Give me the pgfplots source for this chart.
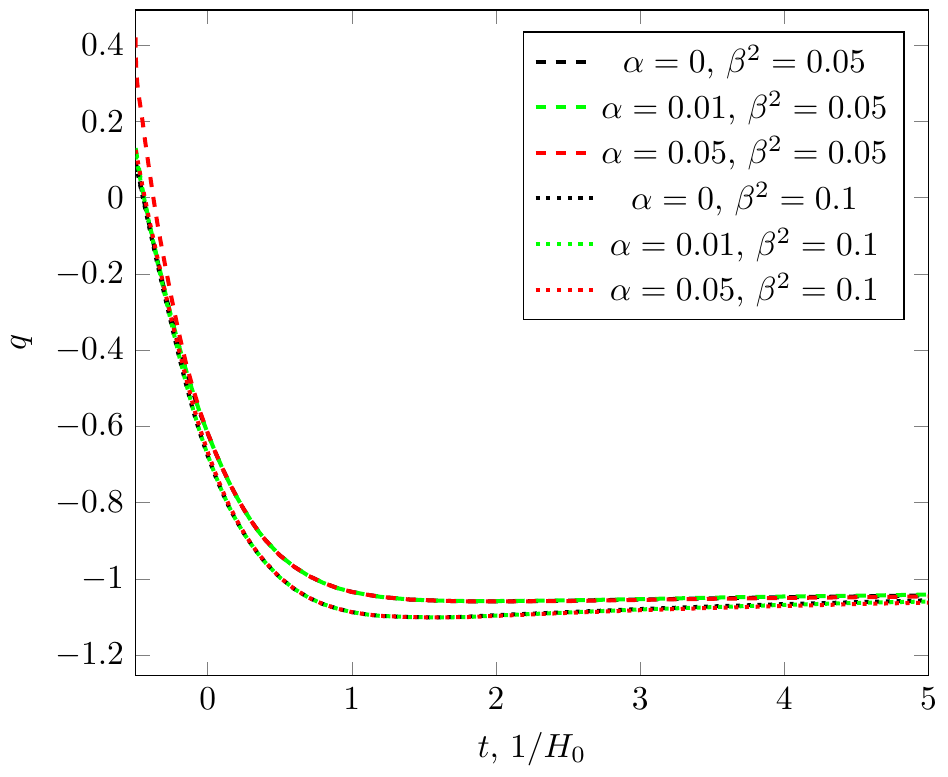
\documentclass[border=0pt]{standalone}
\usepackage{pgfplots}
\pgfplotsset{compat=1.18}
\begin{document}
\begin{tikzpicture}
\begin{axis}[
  scale only axis,
  width=237pt, height=199pt,
  xmin=-0.5, xmax=5,
  ymin=-1.254, ymax=0.492,
  xtick={0,1,2,3,4,5},
  ytick={-1.2,-1,-0.8,-0.6,-0.4,-0.2,0,0.2,0.4},
  xlabel={$t$, $1/H_0$},
  ylabel={$q$},
  legend cell align=center,
  legend style={at={(0.97,0.968)}, anchor=north east},
]
\addplot[black, dashed, very thick] coordinates {
(-0.5,0.094) (-0.45,0.005) (-0.4,-0.08) (-0.35,-0.163) (-0.3,-0.243) (-0.25,-0.318)
(-0.2,-0.388) (-0.15,-0.453) (-0.1,-0.513) (-0.05,-0.568) (0,-0.618) (0.05,-0.665)
(0.1,-0.708) (0.15,-0.748) (0.2,-0.784) (0.25,-0.817) (0.3,-0.847) (0.35,-0.874)
(0.4,-0.898) (0.5,-0.938) (0.6,-0.968) (0.7,-0.992) (0.8,-1.010) (0.9,-1.024)
(1.0,-1.034) (1.1,-1.041) (1.2,-1.047) (1.4,-1.054) (1.6,-1.057) (1.8,-1.059)
(2.0,-1.059) (2.5,-1.057) (3.0,-1.054) (3.5,-1.051) (4.0,-1.048) (4.5,-1.046) (5.0,-1.043)
};
\addlegendentry{$\alpha=0$, $\beta^2=0.05$}
\addplot[green, dashed, very thick] coordinates {
(-0.5,0.13) (-0.45,0.015) (-0.4,-0.075) (-0.35,-0.16) (-0.3,-0.241) (-0.25,-0.317)
(-0.2,-0.388) (-0.15,-0.453) (-0.1,-0.513) (-0.05,-0.568) (0,-0.618) (0.05,-0.665)
(0.1,-0.708) (0.15,-0.748) (0.2,-0.784) (0.25,-0.817) (0.3,-0.847) (0.35,-0.874)
(0.4,-0.898) (0.5,-0.938) (0.6,-0.968) (0.7,-0.992) (0.8,-1.010) (0.9,-1.024)
(1.0,-1.034) (1.1,-1.041) (1.2,-1.047) (1.4,-1.054) (1.6,-1.057) (1.8,-1.058)
(2.0,-1.058) (2.5,-1.056) (3.0,-1.053) (3.5,-1.049) (4.0,-1.046) (4.5,-1.044) (5.0,-1.041)
};
\addlegendentry{$\alpha=0.01$, $\beta^2=0.05$}
\addplot[red, dashed, very thick] coordinates {
(-0.5,0.42) (-0.4985,0.37) (-0.495,0.335) (-0.489,0.302) (-0.48,0.272) (-0.469,0.245)
(-0.45,0.195) (-0.434,0.148) (-0.41,0.085) (-0.377,0.0) (-0.35,-0.065) (-0.33,-0.108)
(-0.3,-0.168) (-0.25,-0.265) (-0.2,-0.355) (-0.15,-0.435) (-0.1,-0.503) (-0.05,-0.564)
(0,-0.617) (0.05,-0.665) (0.1,-0.708) (0.15,-0.748) (0.2,-0.784) (0.25,-0.817)
(0.3,-0.847) (0.35,-0.874) (0.4,-0.898) (0.5,-0.938) (0.6,-0.968) (0.7,-0.992)
(0.8,-1.010) (0.9,-1.024) (1.0,-1.034) (1.1,-1.041) (1.2,-1.047) (1.4,-1.054)
(1.6,-1.057) (1.8,-1.059) (2.0,-1.059) (2.5,-1.058) (3.0,-1.055) (3.5,-1.052)
(4.0,-1.050) (4.5,-1.048) (5.0,-1.046)
};
\addlegendentry{$\alpha=0.05$, $\beta^2=0.05$}
\addplot[black, dotted, very thick] coordinates {
(-0.5,0.09) (-0.45,0.0) (-0.4,-0.087) (-0.35,-0.172) (-0.3,-0.255) (-0.25,-0.335)
(-0.2,-0.415) (-0.15,-0.49) (-0.1,-0.56) (-0.05,-0.622) (0,-0.677) (0.05,-0.727)
(0.1,-0.772) (0.15,-0.813) (0.2,-0.848) (0.25,-0.88) (0.3,-0.908) (0.35,-0.934)
(0.4,-0.957) (0.5,-0.996) (0.6,-1.026) (0.7,-1.049) (0.8,-1.066) (0.9,-1.078)
(1.0,-1.087) (1.1,-1.093) (1.2,-1.097) (1.4,-1.100) (1.6,-1.101) (1.8,-1.099)
(2.0,-1.095) (2.5,-1.087) (3.0,-1.079) (3.5,-1.072) (4.0,-1.066) (4.5,-1.061) (5.0,-1.056)
};
\addlegendentry{$\alpha=0$, $\beta^2=0.1$}
\addplot[green, dotted, very thick] coordinates {
(-0.5,0.11) (-0.45,0.015) (-0.4,-0.078) (-0.35,-0.166) (-0.3,-0.251) (-0.25,-0.332)
(-0.2,-0.412) (-0.15,-0.487) (-0.1,-0.557) (-0.05,-0.62) (0,-0.675) (0.05,-0.725)
(0.1,-0.771) (0.15,-0.812) (0.2,-0.848) (0.25,-0.88) (0.3,-0.908) (0.35,-0.934)
(0.4,-0.957) (0.5,-0.996) (0.6,-1.026) (0.7,-1.049) (0.8,-1.066) (0.9,-1.078)
(1.0,-1.087) (1.1,-1.093) (1.2,-1.097) (1.4,-1.100) (1.6,-1.101) (1.8,-1.100)
(2.0,-1.096) (2.5,-1.088) (3.0,-1.080) (3.5,-1.074) (4.0,-1.068) (4.5,-1.063) (5.0,-1.059)
};
\addlegendentry{$\alpha=0.01$, $\beta^2=0.1$}
\addplot[red, dotted, very thick] coordinates {
(-0.5,0.125) (-0.45,0.025) (-0.4,-0.068) (-0.35,-0.155) (-0.3,-0.24) (-0.25,-0.32)
(-0.2,-0.398) (-0.15,-0.473) (-0.1,-0.545) (-0.05,-0.61) (0,-0.667) (0.05,-0.719)
(0.1,-0.766) (0.15,-0.808) (0.2,-0.845) (0.25,-0.878) (0.3,-0.907) (0.35,-0.933)
(0.4,-0.956) (0.5,-0.996) (0.6,-1.026) (0.7,-1.049) (0.8,-1.066) (0.9,-1.078)
(1.0,-1.087) (1.1,-1.093) (1.2,-1.097) (1.4,-1.100) (1.6,-1.101) (1.8,-1.100)
(2.0,-1.097) (2.5,-1.089) (3.0,-1.082) (3.5,-1.076) (4.0,-1.071) (4.5,-1.066) (5.0,-1.062)
};
\addlegendentry{$\alpha=0.05$, $\beta^2=0.1$}
\end{axis}
\path ([yshift=3pt]current axis.north);
\end{tikzpicture}
\end{document}
